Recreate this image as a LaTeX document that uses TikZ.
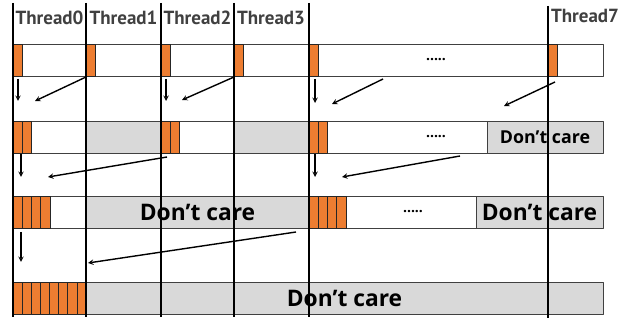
\documentclass[tikz,border=0pt]{standalone}
\usepackage{fontspec}
\setmainfont{Open Sans}
\newfontfamily\threadfont{PT Sans}
\definecolor{cellorange}{HTML}{ED7D31}
\definecolor{cellgray}{HTML}{D9D9D9}
\definecolor{labelgray}{HTML}{404040}
\tikzset{
	orangecell/.style={draw=black!85, fill=cellorange, line width=0.7pt},
	graycell/.style={draw=black!75, fill=cellgray, line width=0.8pt},
	whitecell/.style={draw=black!75, fill=white, line width=0.8pt},
	threadline/.style={line width=1.2pt},
	threadlabel/.style={text=labelgray, font=\threadfont\fontsize{19}{19}\selectfont\bfseries, anchor=base, inner sep=0pt},
	dontcare/.style={font=\fontsize{#1}{#1}\selectfont\bfseries, inner sep=0pt},
	dots/.style={font=\fontsize{14}{14}\selectfont\bfseries, inner sep=0pt},
	move/.style={->, line width=1.4pt}
}
\begin{document}
\begin{tikzpicture}[x=1pt, y=-1pt, line join=round, >=stealth]
	\useasboundingbox (0,0) rectangle (629,320);
	\def\ra{44} \def\rb{121} \def\rc{196} \def\rd{282} \def\h{32} % tops of the rows, height
	% row 1
	\draw[whitecell] (13,\ra) rectangle (603,\ra+\h);
	\foreach \x in {13,86,161,234,309,548}
		\draw[orangecell] (\x,\ra) rectangle ++(9,\h);
	\node[dots] (dotsA) at (436,\ra+16) {.....};
	% row 2
	\draw[whitecell] (13,\rb) rectangle (86,\rb+\h);
	\draw[graycell] (86,\rb) rectangle (161,\rb+\h);
	\draw[whitecell] (161,\rb) rectangle (234,\rb+\h);
	\draw[graycell] (234,\rb) rectangle (309,\rb+\h);
	\draw[whitecell] (309,\rb) rectangle (487,\rb+\h);
	\draw[graycell] (487,\rb) rectangle (603,\rb+\h);
	\foreach \x in {13,161,309}
		\foreach \i in {0,1}
			\draw[orangecell] (\x+9*\i,\rb) rectangle ++(9,\h);
	\node[dots] (dotsB) at (436,\rb+16) {.....};
	\node[dontcare=17.8] (careB) at (545,\rb+16) {Don’t care};
	% row 3
	\draw[whitecell] (13,\rc) rectangle (86,\rc+\h);
	\draw[graycell] (86,\rc) rectangle (309,\rc+\h);
	\draw[whitecell] (309,\rc) rectangle (476,\rc+\h);
	\draw[graycell] (476,\rc) rectangle (603,\rc+\h);
	\foreach \x in {13,309}
		\foreach \i in {0,...,3}
			\draw[orangecell] (\x+9.25*\i,\rc) rectangle ++(9.25,\h);
	\node[dots] (dotsC) at (413,\rc+16) {.....};
	\node[dontcare=22.8] (careC) at (197.5,\rc+16) {Don’t care};
	\node[dontcare=22.8] (careD) at (539.5,\rc+16) {Don’t care};
	% row 4
	\draw[graycell] (86,\rd) rectangle (603,\rd+\h);
	\foreach \i in {0,...,7}
		\draw[orangecell] (13+9.125*\i,\rd) rectangle ++(9.125,\h);
	\node[dontcare=22.8] (careE) at (344.5,\rd+16) {Don’t care};
	% threads
	\foreach \x/\n in {13/0,86/1,161/2,234/3,309/4}
		\draw[threadline] (\x,3) coordinate (t\n) -- (\x,317);
	\draw[threadline] (548,6) coordinate (t7) -- (548,318);
	\foreach \x/\n in {49.5/0,123.5/1,197.5/2,271/3}
		\node[threadlabel] (lab\n) at (\x,25) {Thread\n};
	\node[threadlabel] (lab7) at (585,23) {Thread7};
	% arrows
	\coordinate (s1) at (18,79);   \coordinate (e1) at (18,101);
	\coordinate (s2) at (166,79);  \coordinate (e2) at (166,101);
	\coordinate (s3) at (315,79);  \coordinate (e3) at (315,103);
	\coordinate (s4) at (86,77);   \coordinate (e4) at (35,101);
	\coordinate (s5) at (234,77);  \coordinate (e5) at (182,100);
	\coordinate (s6) at (383,79);  \coordinate (e6) at (332,104);
	\coordinate (s7) at (555,82);  \coordinate (e7) at (504,106);
	\coordinate (s8) at (21,154);  \coordinate (e8) at (21,177);
	\coordinate (s9) at (315,154); \coordinate (e9) at (315,177);
	\coordinate (s10) at (167,157); \coordinate (e10) at (48,177);
	\coordinate (s11) at (460,156); \coordinate (e11) at (342,177);
	\coordinate (s12) at (21,232);  \coordinate (e12) at (21,262);
	\coordinate (s13) at (296,232); \coordinate (e13) at (88,263);
	\foreach \k in {1,...,13}
		\draw[move] (s\k) -- (e\k);
\end{tikzpicture}
\end{document}
